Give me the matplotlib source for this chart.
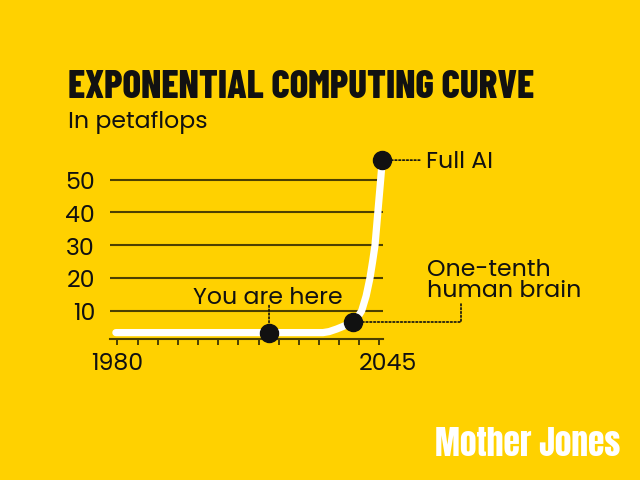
import matplotlib
matplotlib.use("Agg")
import matplotlib.pyplot as plt
import matplotlib.transforms as mtrans
from matplotlib import font_manager

# ---- data ----
curve_years = [1979.6, 1990, 2000, 2010, 2017.6, 2025, 2030, 2031.0, 2032.5, 2034.4,
               2036.0, 2037.3, 2038.5, 2039.6, 2040.6, 2041.7, 2042.65, 2043.3,
               2043.9, 2044.6, 2045.3, 2045.7]
curve_values = [3.3, 3.3, 3.3, 3.3, 3.3, 3.3, 3.3, 3.3, 3.6, 4.4,
                5.2, 5.9, 6.6, 8.0, 10.0, 14.5, 20.0, 25.0,
                30.0, 40.0, 50.0, 56.0]
marker_years = [2017.6, 2038.5, 2045.7]
marker_values = [3.3, 6.6, 56.0]
marker_labels = ["You are here", "One-tenth\nhuman brain", "Full AI"]
y_ticks = [10, 20, 30, 40, 50]
x_ticks = list(range(1980, 2046, 5))
x_ticklabels = ["1980"] + [""] * 12 + ["2045"]

BG = "#FFD100"
INK = "#111111"
GRID = "#4d4000"

fonts = font_manager.fontManager.ttflist


def static_regular(name):
    return any(f.name == name and "[" not in f.fname and f.weight == 400 and f.style == "normal"
               for f in fonts)


def pick(cands, default="DejaVu Sans"):
    for c in cands:
        if static_regular(c):
            return c
    return default


avail = {f.name for f in fonts}
body_font = pick(["Poppins", "Figtree", "Nunito Sans", "Open Sans", "Lato"])
title_font = next((c for c in ["Barlow Condensed", "Roboto Condensed", "Oswald"] if c in avail), "DejaVu Sans")
logo_font = next((c for c in ["Anton", "Bebas Neue", "Oswald"] if c in avail), "DejaVu Sans")

fig = plt.figure(figsize=(6.4, 4.81), dpi=100)
fig.patch.set_facecolor(BG)

W, H = 640, 481
ax = fig.add_axes([100 / W, (H - 350) / H, 300 / W, 200 / H])
ax.set_facecolor(BG)
ax.set_xlim(1975.66, 2050.1)
ax.set_ylim(-1.71, 59.4)

for s in ["top", "right", "left"]:
    ax.spines[s].set_visible(False)
ax.spines["bottom"].set_position(("data", 1.2))
ax.spines["bottom"].set_bounds(1978.2, 2045.8)
ax.spines["bottom"].set_color(GRID)
ax.spines["bottom"].set_linewidth(1.5)

# gridlines
ax.hlines(y_ticks, 1978.2, 2045.8, color=GRID, lw=1.5, zorder=1)

LBL = 17
ax.set_yticks(y_ticks)
ax.set_yticklabels([str(v) for v in y_ticks])
ax.tick_params(axis="y", length=0, pad=3.6, labelsize=LBL, labelcolor=INK)
for lab in ax.get_yticklabels():
    lab.set_fontfamily(body_font)

ax.set_xticks(x_ticks)
ax.set_xticklabels(x_ticklabels)
ax.tick_params(axis="x", direction="out", length=4, width=1.4, color=GRID,
               pad=5, labelsize=LBL, labelcolor=INK)
for lab in ax.get_xticklabels():
    lab.set_fontfamily(body_font)
last = ax.get_xticklabels()[-1]
last.set_transform(last.get_transform() + mtrans.ScaledTranslation(8 / 100, 0, fig.dpi_scale_trans))

# curve
ax.plot(curve_years, curve_values, color="white", lw=5.2, solid_capstyle="round",
        solid_joinstyle="round", zorder=3)
ax.scatter(marker_years, marker_values, s=13 ** 2, color=INK, zorder=4)

dot = dict(arrowstyle="-", linestyle=(0, (1, 1.3)), color=INK, lw=1.2,
           shrinkA=0, shrinkB=6)
# You are here
ax.annotate("", xy=(marker_years[0], marker_values[0]), xytext=(0, 19.5),
            textcoords="offset points", arrowprops=dot, zorder=2)
ax.annotate(marker_labels[0], xy=(marker_years[0], marker_values[0]), xytext=(-1, 21.6),
            textcoords="offset points", ha="center", va="baseline",
            fontsize=LBL, color=INK, fontfamily=body_font)
# One-tenth human brain
ax.annotate("", xy=(marker_years[1], marker_values[1]), xytext=(77.5, 12.7),
            textcoords="offset points",
            arrowprops=dict(dot, connectionstyle="angle,angleA=90,angleB=0,rad=0"),
            zorder=2)
ax.annotate(marker_labels[1], xy=(marker_years[1], marker_values[1]), xytext=(53, 18.5),
            textcoords="offset points", ha="left", va="baseline", linespacing=0.9,
            fontsize=LBL, color=INK, fontfamily=body_font, annotation_clip=False)
# Full AI
ax.annotate("", xy=(marker_years[2], marker_values[2]), xytext=(27, 0),
            textcoords="offset points", arrowprops=dot, zorder=2, annotation_clip=False)
ax.annotate(marker_labels[2], xy=(marker_years[2], marker_values[2]), xytext=(31.5, -5),
            textcoords="offset points", ha="left", va="baseline",
            fontsize=LBL, color=INK, fontfamily=body_font, annotation_clip=False)

# titles
fig.text(68 / W, 1 - 98 / H, "EXPONENTIAL COMPUTING CURVE", fontsize=28,
         fontweight="heavy", fontfamily=title_font, color=INK, va="baseline", ha="left")
fig.text(68 / W, 1 - 128 / H, "In petaflops", fontsize=LBL, fontfamily=body_font,
         color=INK, va="baseline", ha="left")
fig.text(620 / W, 1 - 456 / H, "Mother Jones", fontsize=24,
         fontfamily=logo_font, color="white", va="baseline", ha="right")

fig.savefig("out.png", dpi=100, facecolor=BG)
